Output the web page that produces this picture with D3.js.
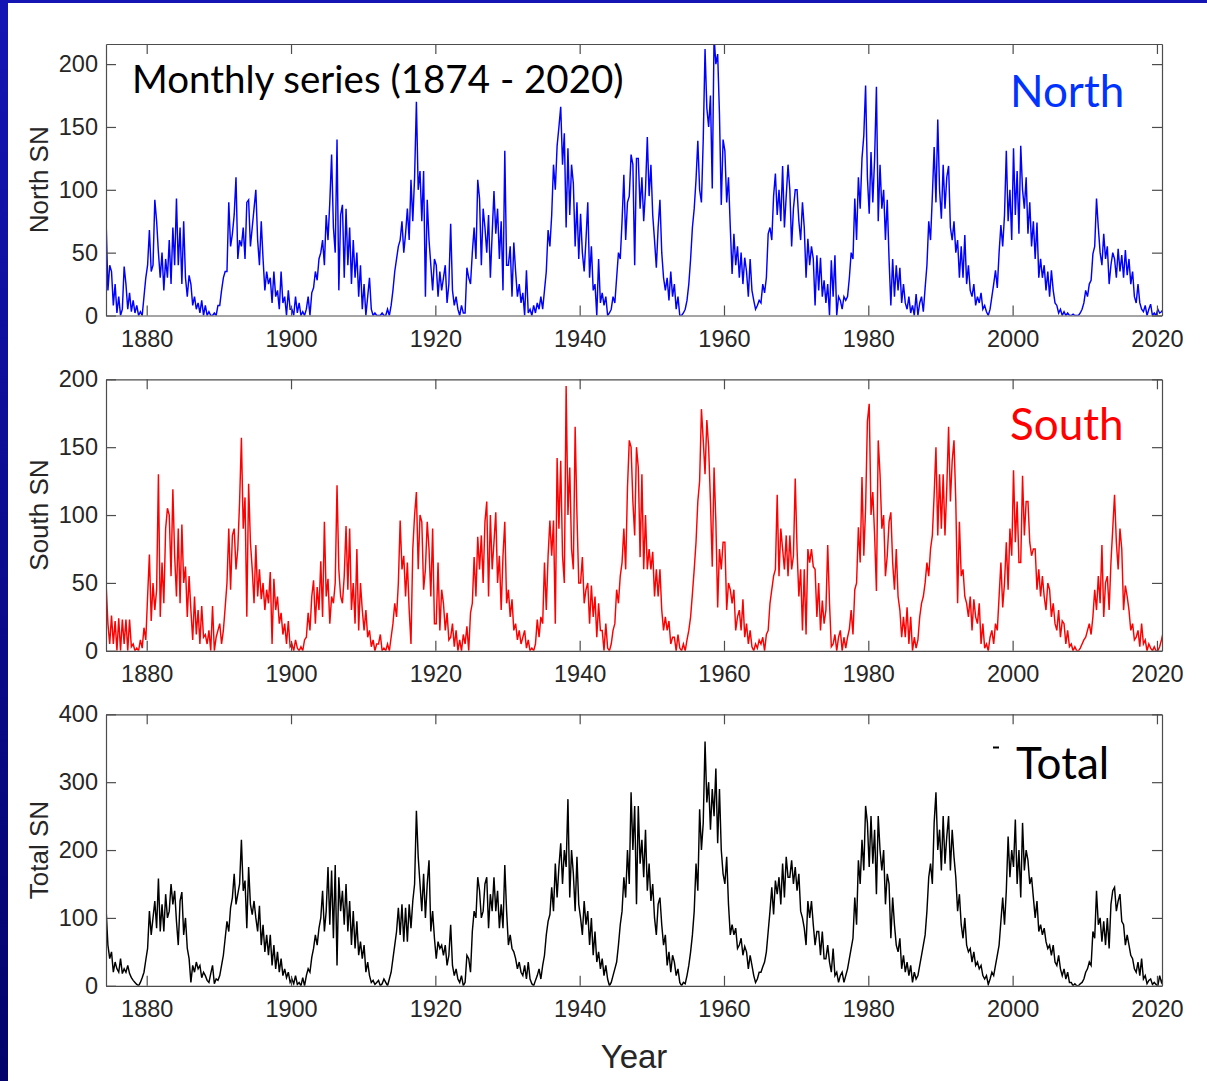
<!DOCTYPE html>
<html>
<head>
<meta charset="utf-8">
<script src="https://cdn.jsdelivr.net/npm/d3@7"></script>
<style>
  html, body { margin: 0; padding: 0; background: #ffffff; }
  svg { display: block; }
</style>
</head>
<body>
<svg id="chart" width="1207" height="1081"></svg>
<script>
// Hemispheric sunspot numbers, four samples per calendar year (quarter means), 1874-2020.
const firstYear = 1874;
const samplesPerYear = 4;

const northSN = [
  75,75,20,40, 35,8,25,2, 15,0,5,39, 25,5,18,3, 12,2,8,0, 3,0,15,30, // 1874-1879
  40,68,35,40, 92,75,50,30, 50,20,45,30, 60,25,70,40, 93,40,70,25, 75,30,15,32, 25,8,15,5, 10,2,12,0, 8,0,3,0, 0,2,0,8, // 1880s
  8,20,30,35, 35,90,55,65, 80,110,45,60, 55,70,45,90, 92,55,70,85, 100,60,40,75, 45,20,35,25, 30,10,35,15, 20,5,35,10, 15,0,20,5, // 1890s
  5,0,15,2, 10,0,3,0, 5,15,0,18, 22,35,28,45, 50,60,40,80, 60,90,128,70, 50,140,20,80, 88,30,85,40, 70,25,60,30, 50,15,40,5, // 1900s
  25,0,15,30, 5,0,2,0, 0,0,2,0, 0,5,0,8, 20,35,45,55, 60,75,50,65, 85,60,108,75, 110,170,100,115, 75,115,15,92, 60,40,20,45, // 1910s
  40,15,35,20, 30,40,10,25, 73,20,8,15, 5,0,8,2, 2,38,30,25, 50,70,45,108, 93,40,85,70, 50,80,30,65, 99,65,85,45, 75,20,131,40, // 1920s
  40,55,15,58, 35,15,25,10, 18,0,36,2, 5,0,8,2, 10,5,15,5, 20,35,68,55, 80,120,100,135, 150,166,120,145, 70,133,80,120, 105,55,90,45, // 1930s
  81,50,35,60, 90,30,55,20, 25,0,45,10, 18,8,15,0, 2,5,15,10, 30,50,45,75, 112,60,90,95, 128,120,40,125, 125,85,110,75, 100,142,95,120, // 1940s
  80,60,38,70, 92,50,30,20, 30,12,35,15, 25,5,15,0, 0,2,5,12, 25,45,70,85, 108,139,100,90, 140,212,165,150, 175,101,222,200, 208,160,88,140, // 1950s
  131,90,110,70, 33,65,40,55, 30,50,25,46, 35,15,45,20, 12,5,8,12, 10,25,18,30, 65,70,60,95, 113,80,100,75, 119,70,95,120, 100,55,85,100, // 1960s
  100,75,60,90, 70,30,61,40, 55,45,8,48, 20,46,15,28, 10,25,0,44, 15,48,0,15, 12,5,15,12, 15,30,50,45, 93,60,110,85, 125,143,183,110, // 1970s
  81,130,90,125, 182,75,120,85, 100,60,92,45, 8,45,15,40, 20,38,10,25, 10,5,15,2, 8,0,17,0, 10,15,3,22, 40,75,60,95, 134,90,156,100, // 1980s
  77,120,85,110, 119,70,60,75, 50,60,30,55, 30,64,25,40, 20,15,25,8, 15,10,18,5, 8,3,0,5, 15,25,36,22, 50,72,55,80, 131,75,100,60, // 1990s
  133,80,115,65, 135,100,85,110, 65,90,55,75, 45,74,30,45, 30,40,20,35, 15,36,20,10, 8,2,5,0, 3,0,2,0, 0,1,0,0, 0,2,5,10, // 2000s
  20,15,25,28, 49,55,93,70, 50,40,65,45, 55,25,40,50, 45,30,53,35, 48,30,52,32, 45,25,35,15, 10,25,10,5, 3,8,0,5, 9,0,2,0, // 2010s
  5,2,3,5 // 2020
];

const southSN = [
  55,49,20,5, 26,5,22,0, 24,0,23,5, 23,0,23,3, 5,0,2,0, 8,2,17,8, // 1874-1879
  40,71,22,50, 30,45,130,25, 65,35,90,105, 100,55,119,70, 40,90,35,93, 50,62,25,55, 30,8,40,12, 30,5,33,10, 12,5,15,0, 33,0,10,15, // 1880s
  20,5,15,32, 50,90,45,85, 90,60,75,110, 157,90,113,25, 123,80,60,35, 78,40,60,38, 50,30,45,35, 58,5,53,30, 40,20,28,12, 20,5,22,3, // 1890s
  5,0,8,2, 0,3,0,8, 10,28,15,40, 52,20,47,30, 66,25,95,40, 53,20,40,35, 50,122,60,40, 35,55,92,45, 90,30,50,20, 75,15,50,30, // 1900s
  15,30,10,15, 3,8,0,5, 5,12,0,2, 0,5,0,10, 20,35,25,50, 96,60,70,40, 65,30,5,75, 100,117,60,100, 95,45,60,95, 75,40,90,20, // 1910s
  20,65,15,45, 35,15,28,8, 10,20,3,15, 0,8,0,12, 5,18,0,28, 35,69,40,84, 60,85,50,95, 110,40,100,60, 80,102,50,70, 30,70,95,35, // 1920s
  45,25,38,15, 20,8,15,5, 10,15,2,8, 0,2,0,5, 23,10,25,20, 65,30,70,96, 70,96,20,142, 90,140,70,50, 195,100,135,75, 60,165,100,50, // 1930s
  50,69,35,45, 50,20,48,25, 40,10,35,15, 15,0,20,2, 0,5,15,20, 45,35,55,65, 90,60,120,155, 150,110,85,150, 135,69,130,60, 100,60,75,60, // 1940s
  73,40,60,40, 60,30,15,25, 15,22,5,10, 10,0,12,2, 0,5,0,8, 15,25,42,60, 80,110,125,178, 155,130,170,150, 110,62,135,95, 32,75,60,80, // 1950s
  80,30,50,45, 35,45,15,25, 30,15,38,10, 20,5,15,3, 0,5,2,8, 5,10,0,12, 15,35,45,55, 60,115,55,90, 75,60,85,55, 85,60,70,127, // 1960s
  75,40,60,15, 60,12,75,65, 75,62,60,25, 50,15,37,20, 30,78,35,3, 5,12,0,10, 15,0,10,2, 10,16,30,12, 45,50,91,65, 128,70,105,169, // 1970s
  182,100,117,85, 44,155,130,90, 100,55,70,95, 102,65,45,75, 40,30,10,25, 10,32,5,25, 0,10,2,8, 25,35,40,50, 65,55,75,85, 115,150,85,130, // 1980s
  90,130,85,120, 165,110,140,155, 110,35,95,55, 60,40,35,25, 40,15,38,25, 20,35,5,20, 2,5,0,10, 15,5,20,15, 40,65,32,50, 80,45,90,70, // 1990s
  133,80,110,65, 65,129,85,110, 110,80,70,75, 75,45,60,40, 55,40,30,50, 45,25,35,20, 15,30,10,22, 20,5,15,3, 5,0,3,0, 0,2,5,8, // 2000s
  10,15,20,12, 25,45,30,55, 35,78,25,50, 55,30,65,90, 115,80,60,90, 75,30,48,40, 30,15,20,8, 10,15,3,20, 5,8,0,5, 2,0,3,0, // 2010s
  0,3,8,14 // 2020
];

const totalSN = [
  112,112,60,40, 50,20,35,25, 20,40,18,25, 20,30,18,12, 8,5,2,0, 5,12,20,38, // 1874-1879
  55,110,75,100, 125,85,158,80, 120,80,135,100, 110,150,120,140, 95,60,125,138, 75,100,55,40, 5,30,20,35, 25,30,12,20, 15,8,5,18, 30,3,10,8, // 1880s
  15,30,45,70, 95,80,115,130, 165,120,135,150, 215,140,155,85, 175,120,105,125, 100,80,118,60, 90,50,75,45, 75,30,60,25, 50,20,40,15, 25,12,20,5, // 1890s
  10,3,15,2, 5,0,12,0, 15,25,20,42, 55,75,60,85, 100,140,80,110, 175,90,170,70, 178,30,160,110, 140,90,150,80, 125,60,110,55, 95,45,65,40, // 1900s
  60,20,35,15, 5,8,2,5, 8,0,3,10, 5,0,10,20, 40,60,80,115, 75,120,65,115, 65,120,85,125, 150,258,190,150, 110,165,100,150, 185,80,110,70, // 1910s
  40,65,55,60, 45,60,30,45, 90,30,15,25, 10,5,15,0, 5,45,40,20, 80,110,100,160, 140,100,110,150, 160,85,135,110, 160,110,140,85, 120,85,178,110, // 1920s
  60,75,55,50, 40,25,35,20, 15,30,10,35, 10,3,0,8, 15,25,10,30, 45,75,95,105, 145,110,180,130, 175,210,150,200, 175,275,130,200, 165,110,190,120, // 1930s
  100,75,125,90, 110,60,100,45, 80,35,50,25, 40,15,30,10, 0,5,15,25, 35,60,90,110, 160,130,200,150, 285,200,265,120, 265,180,215,160, 230,140,180,125, // 1940s
  150,100,75,120, 130,90,60,75, 30,50,20,45, 35,15,25,5, 0,5,3,15, 30,50,75,110, 180,140,260,200, 240,360,270,300, 230,290,250,320, 210,290,200,165, // 1950s
  150,190,120,75, 90,75,85,55, 60,70,45,58, 50,25,45,30, 15,5,10,20, 20,28,35,50, 80,110,145,105, 155,135,160,120, 180,130,190,160, 160,185,150,175, // 1960s
  140,165,110,100, 85,60,125,100, 125,90,60,80, 80,45,80,40, 40,60,35,20, 55,15,20,5, 15,20,5,15, 25,40,55,70, 130,90,185,150, 215,170,265,240, // 1970s
  175,250,180,230, 135,250,200,170, 200,120,165,150, 70,130,90,60, 50,70,25,45, 20,35,15,30, 5,20,10,15, 30,45,60,75, 110,160,180,150, 240,285,200,230, // 1980s
  170,250,180,220, 250,170,230,190, 160,110,135,90, 70,100,60,50, 55,35,50,30, 35,25,30,15, 10,15,2,10, 20,15,30,45, 60,95,130,90, 140,220,160,200, // 1990s
  175,245,150,200, 130,240,170,200, 185,150,160,130, 100,125,80,90, 75,85,65,55, 60,45,60,35, 30,45,25,15, 25,10,20,5, 5,0,3,0, 0,3,5,10, // 2000s
  20,25,35,30, 80,70,140,90, 100,65,95,60, 100,55,120,140, 145,110,125,135, 95,90,60,75, 60,45,40,25, 20,35,15,40, 10,15,3,8, 10,2,5,2, // 2010s
  0,15,5,12 // 2020
];

const yearTicks = [1880, 1900, 1920, 1940, 1960, 1980, 2000, 2020];
const northTicks = [0, 50, 100, 150, 200];
const southTicks = [0, 50, 100, 150, 200];
const totalTicks = [0, 100, 200, 300, 400];
const seriesNames = ["North", "South", "Total"];
const axisTitles = ["North SN", "South SN", "Total SN"];
const chartTitle = "Monthly series (1874 - 2020)";
const xTitle = "Year";

// ---- layout ----
const W = 1207, H = 1081;
const plotLeft = 106, plotRight = 1162, plotHeight = 271.5;
const axisColor = "#4d4d4d", labelColor = "#262626";
const tickFont = "Liberation Sans, Arial, Helvetica, sans-serif";
const noteFont = "Lato, 'Open Sans', sans-serif";

const svg = d3.select("#chart");

// slide background: blue frame on the left and top edge
const defs = svg.append("defs");
const grad = defs.append("linearGradient")
  .attr("id", "frameGrad").attr("x1", 0).attr("y1", 0).attr("x2", 0).attr("y2", 1);
grad.append("stop").attr("offset", "0%").attr("stop-color", "#1515b4");
grad.append("stop").attr("offset", "100%").attr("stop-color", "#03036b");
svg.append("rect").attr("x", 0).attr("y", 0).attr("width", W).attr("height", H)
  .attr("fill", "url(#frameGrad)");
svg.append("rect").attr("x", 8).attr("y", 3).attr("width", W - 8).attr("height", H - 3)
  .attr("fill", "#ffffff");

const x = d3.scaleLinear().domain([1874.36, 2020.7]).range([plotLeft, plotRight]);

function toPoints(values) {
  return values.map((v, i) => ({ t: firstYear + (i + 0.5) / samplesPerYear, v }));
}

const panels = [
  { values: northSN, ticks: northTicks, yMax: 216, top: 44,    color: "#0000ff",
    name: seriesNames[0], nameColor: "#0033ff", nameX: 1010, nameY: 106.5 },
  { values: southSN, ticks: southTicks, yMax: 200, top: 379.3, color: "#ff0000",
    name: seriesNames[1], nameColor: "#ff0000", nameX: 1010, nameY: 440 },
  { values: totalSN, ticks: totalTicks, yMax: 400, top: 714.3, color: "#000000",
    name: seriesNames[2], nameColor: "#000000", nameX: 1016, nameY: 779 }
];

panels.forEach((p, k) => {
  const top = p.top, bottom = top + plotHeight;
  const y = d3.scaleLinear().domain([0, p.yMax]).range([bottom, top]);
  const g = svg.append("g");

  defs.append("clipPath").attr("id", "clip" + k)
    .append("rect").attr("x", plotLeft).attr("y", top)
    .attr("width", plotRight - plotLeft).attr("height", plotHeight);

  // series line
  const line = d3.line().x(d => x(d.t)).y(d => y(d.v));
  g.append("path")
    .datum(toPoints(p.values))
    .attr("clip-path", "url(#clip" + k + ")")
    .attr("fill", "none")
    .attr("stroke", p.color)
    .attr("stroke-width", 1.45)
    .attr("stroke-linejoin", "miter")
    .attr("d", line);

  // axes on all four sides, ticks pointing inward
  const styleAxis = sel => {
    sel.selectAll(".domain").attr("stroke", axisColor).attr("stroke-width", 1.2);
    sel.selectAll(".tick line").attr("stroke", axisColor).attr("stroke-width", 1.2);
    sel.selectAll(".tick text").attr("fill", labelColor)
      .style("font-family", tickFont).style("font-size", "23.5px");
  };

  g.append("g").attr("transform", `translate(0,${bottom})`)
    .call(d3.axisBottom(x).tickValues(yearTicks).tickFormat(d3.format("d"))
      .tickSizeInner(-10).tickSizeOuter(0).tickPadding(15))
    .call(styleAxis);
  g.append("g").attr("transform", `translate(0,${top})`)
    .call(d3.axisTop(x).tickValues(yearTicks).tickFormat("")
      .tickSizeInner(-10).tickSizeOuter(0))
    .call(styleAxis);
  g.append("g").attr("transform", `translate(${plotLeft},0)`)
    .call(d3.axisLeft(y).tickValues(p.ticks).tickFormat(d3.format("d"))
      .tickSizeInner(-10).tickSizeOuter(0).tickPadding(8))
    .call(styleAxis);
  g.append("g").attr("transform", `translate(${plotRight},0)`)
    .call(d3.axisRight(y).tickValues(p.ticks).tickFormat("")
      .tickSizeInner(-10).tickSizeOuter(0))
    .call(styleAxis);

  // y-axis title
  g.append("text")
    .attr("transform", `translate(47.5,${(top + bottom) / 2}) rotate(-90)`)
    .attr("text-anchor", "middle")
    .attr("fill", labelColor)
    .style("font-family", tickFont).style("font-size", "26px")
    .text(axisTitles[k]);

  // series name inside the panel
  g.append("text")
    .attr("x", p.nameX).attr("y", p.nameY)
    .attr("fill", p.nameColor)
    .style("font-family", noteFont).style("font-size", "44px")
    .text(p.name);
});

// small mark beside the "Total" label
svg.append("rect").attr("x", 993).attr("y", 746.5).attr("width", 6).attr("height", 2)
  .attr("fill", "#000000");

// chart title
svg.append("text")
  .attr("x", 132).attr("y", 92.5)
  .attr("fill", "#000000")
  .style("font-family", noteFont).style("font-size", "38.5px")
  .text(chartTitle);

// x-axis title
svg.append("text")
  .attr("x", 634).attr("y", 1068)
  .attr("text-anchor", "middle")
  .attr("fill", labelColor)
  .style("font-family", tickFont).style("font-size", "33px")
  .text(xTitle);
</script>
</body>
</html>
